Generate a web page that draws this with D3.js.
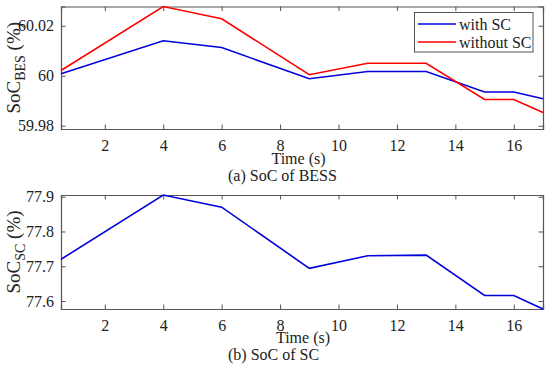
<!DOCTYPE html>
<html><head><meta charset="utf-8">
<script src="https://cdn.jsdelivr.net/npm/d3@7"></script>
<style>body{margin:0;background:#fff}svg{display:block}text{font-family:"Liberation Serif","Times New Roman",serif;fill:#222}</style>
</head><body><svg id="c" width="550" height="367"></svg>
<script>
const time = [0.5, 4, 6, 9, 11, 13, 15, 16, 17];
const bessWithSC = [60.0008, 60.014, 60.0113, 59.9988, 60.0017, 60.0017, 59.9935, 59.9935, 59.9908];
const bessWithoutSC = [60.0021, 60.0277, 60.0228, 60.0004, 60.005, 60.005, 59.9905, 59.9905, 59.9853];
const scSoC = [77.72, 77.905, 77.87, 77.694, 77.73, 77.732, 77.616, 77.616, 77.577];
const xTicks = [2, 4, 6, 8, 10, 12, 14, 16];
const bessTicks = [59.98, 60, 60.02];
const bessTickLabels = ["59.98", "60", "60.02"];
const scTicks = [77.6, 77.7, 77.8, 77.9];
const scTickLabels = ["77.6", "77.7", "77.8", "77.9"];
const seriesNames = ["with SC", "without SC"];
const colors = ["#0000dd", "#ff0000"];

const svg = d3.select("#c");
const axisColor = "#555";
const serif = '"Liberation Serif", "Times New Roman", serif';
const x = d3.scaleLinear().domain([0.5, 17]).range([61, 543]);

function panel(y0, y1, domain, ticks, labels, series, sub, xlabY, capY, caption, tlabCx) {
  const y = d3.scaleLinear().domain(domain).range([y1, y0]);
  const g = svg.append("g");
  const tl = 4.5;
  const xb = d3.axisBottom(x).tickValues(xTicks).tickSize(-tl).tickPadding(10.5).tickFormat(d3.format("d"));
  const gb = g.append("g").attr("transform", `translate(0,${y1})`).call(xb);
  const xt = d3.axisTop(x).tickValues(xTicks).tickSize(-tl).tickFormat("");
  const gt = g.append("g").attr("transform", `translate(0,${y0})`).call(xt);
  const yl = d3.axisLeft(y).tickValues(ticks).tickSize(-tl).tickPadding(7).tickFormat((d, i) => labels[i]);
  const gl = g.append("g").attr("transform", `translate(${x.range()[0]},0)`).call(yl);
  const yr = d3.axisRight(y).tickValues(ticks).tickSize(-tl).tickFormat("");
  const gr = g.append("g").attr("transform", `translate(${x.range()[1]},0)`).call(yr);
  [gb, gt, gl, gr].forEach(a => {
    a.attr("font-family", serif).attr("font-size", 16);
    a.select(".domain").attr("stroke", axisColor).attr("stroke-width", 1.2);
    a.selectAll(".tick line").attr("stroke", axisColor).attr("stroke-width", 1);
    a.selectAll(".tick text").attr("font-size", 16).attr("fill", "#222").style("font-family", serif);
  });
  const line = d3.line().x((d, i) => x(time[i])).y(d => y(d));
  series.forEach((s, k) => {
    g.append("path").attr("d", line(s)).attr("fill", "none").attr("stroke", colors[k]).attr("stroke-width", 1.6);
  });
  const cy = (y0 + y1) / 2;
  const t = g.append("text").attr("transform", `translate(20,${cy}) rotate(-90)`).attr("text-anchor", "middle").attr("font-size", 19);
  t.append("tspan").text("SoC");
  t.append("tspan").attr("font-size", 14).attr("dy", 5).text(sub);
  t.append("tspan").attr("dy", -5).text(" (%)");
  g.append("text").attr("x", tlabCx).attr("y", xlabY).attr("text-anchor", "middle").attr("font-size", 16).text("Time (s)");
  g.append("text").attr("x", 228).attr("y", capY).attr("font-size", 16).text(caption);
  return y;
}

panel(6.5, 129, [59.9787, 60.0277], bessTicks, bessTickLabels, [bessWithSC, bessWithoutSC], "BES", 164, 181, "(a) SoC of BESS", 298.5);
panel(195, 309, [77.577, 77.905], scTicks, scTickLabels, [scSoC], "SC", 343, 360, "(b) SoC of SC", 303);

const lg = svg.append("g");
lg.append("rect").attr("x", 414.5).attr("y", 12.5).attr("width", 118.5).attr("height", 39.5).attr("fill", "#fff").attr("stroke", axisColor).attr("stroke-width", 1);
seriesNames.forEach((n, i) => {
  const yy = 24 + i * 18;
  lg.append("line").attr("x1", 418).attr("x2", 456).attr("y1", yy).attr("y2", yy).attr("stroke", colors[i]).attr("stroke-width", 1.6);
  lg.append("text").attr("x", 459).attr("y", yy + 5.5).attr("font-size", 16).text(n);
});
</script></body></html>
